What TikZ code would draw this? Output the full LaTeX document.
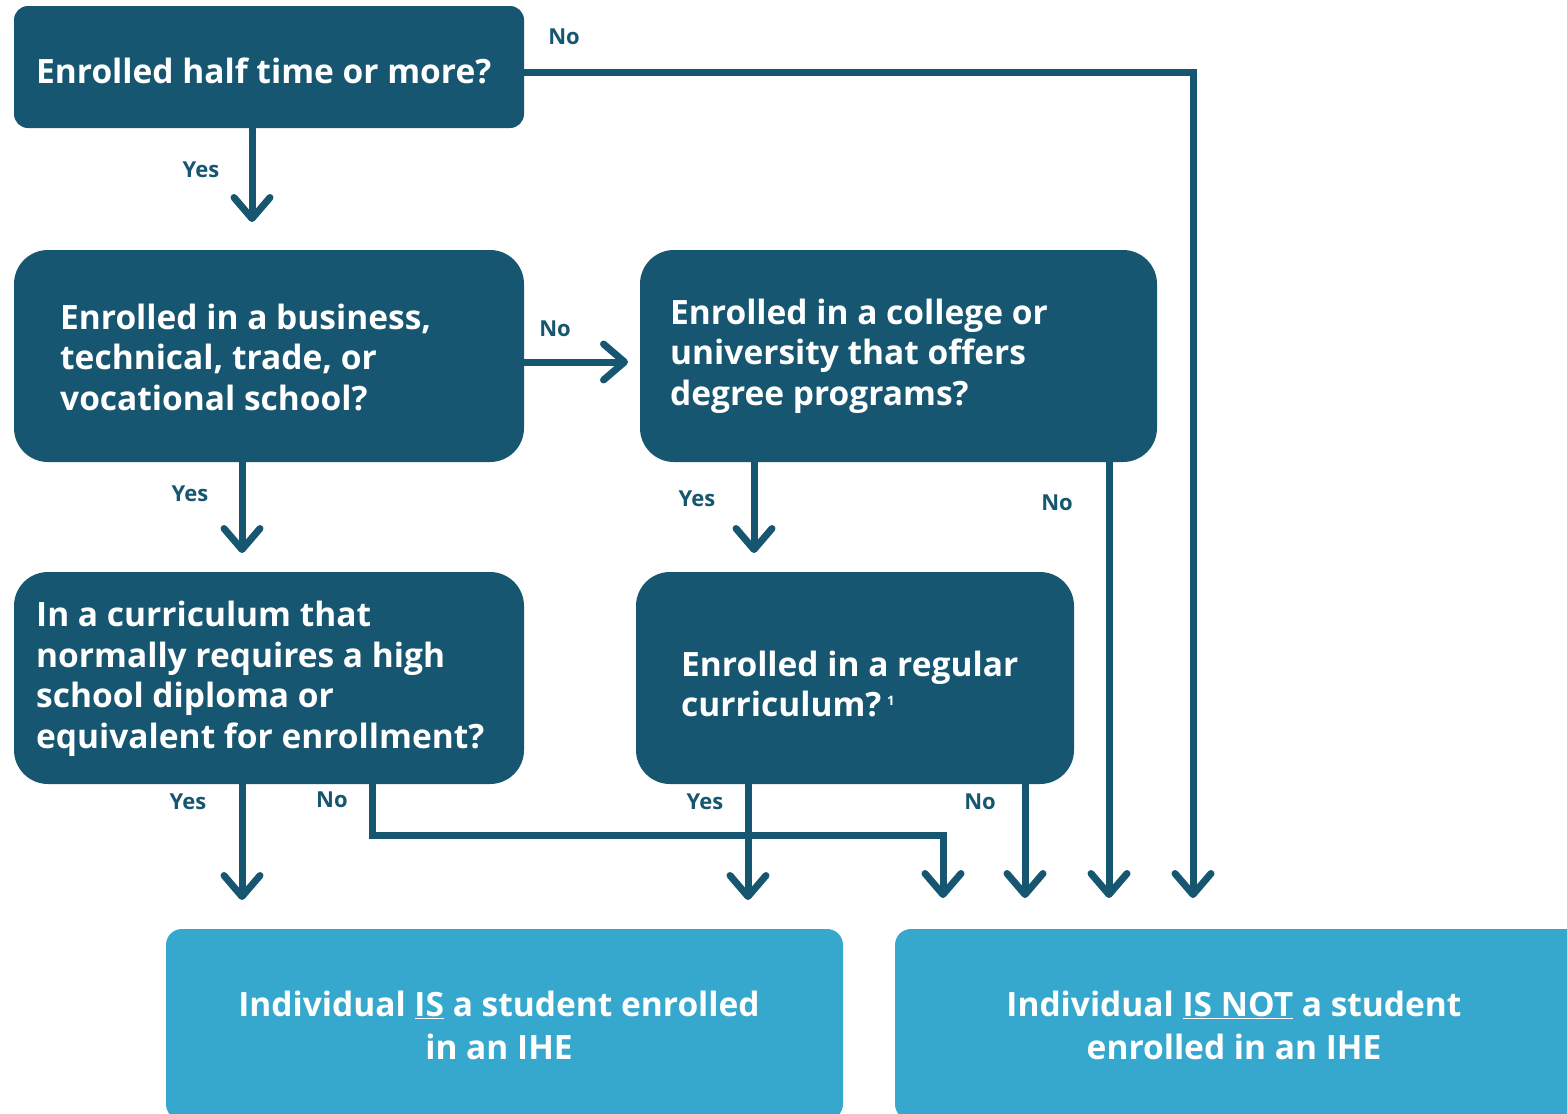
\documentclass[tikz,border=0pt]{standalone}
\usepackage{fontspec}
\setmainfont{Open Sans}
\usetikzlibrary{arrows.meta}
\definecolor{dark}{HTML}{175670}
\definecolor{light}{HTML}{37A8CD}
\begin{document}
\begin{tikzpicture}[x=1pt,y=-1pt,
  dbox/.style={fill=dark, draw=none, rounded corners=34pt, inner sep=0pt},
  lbox/.style={fill=light, draw=none, rounded corners=16pt, inner sep=0pt},
  qtext/.style={text=white, font=\bfseries\fontsize{33.5}{40.5}\selectfont, align=left, anchor=west, inner sep=0pt},
  rtext/.style={text=white, font=\bfseries\fontsize{33.5}{43}\selectfont, align=center, inner sep=0pt},
  lab/.style={text=dark, font=\bfseries\fontsize{22}{24}\selectfont, inner sep=0pt},
  arr/.style={draw=dark, line width=7pt, -{Straight Barb[length=21pt,width=36pt,round]}}
]
\useasboundingbox (0,0) rectangle (1567,1114);
\clip (0,0) rectangle (1567,1114);
\fill[white] (0,0) rectangle (1567,1114);

% boxes
\node[dbox, rounded corners=14pt, minimum width=510pt, minimum height=122pt] (A) at (269,67) {};
\node[dbox, minimum width=510pt, minimum height=212pt] (B) at (269,356) {};
\node[dbox, minimum width=517pt, minimum height=212pt] (C) at (898.5,356) {};
\node[dbox, minimum width=510pt, minimum height=212pt] (D) at (269,678) {};
\node[dbox, minimum width=438pt, minimum height=212pt] (E) at (855,678) {};
\node[lbox, minimum width=677pt, minimum height=191pt] (F) at (504.5,1024.5) {};
\node[lbox, minimum width=695pt, minimum height=191pt] (G) at (1242.5,1024.5) {};

% texts
\node[qtext] (At) at (36,71) {Enrolled half time or more?};
\node[qtext] (Bt) at (60,357) {Enrolled in a business,\\technical, trade, or\\vocational school?};
\node[qtext] (Ct) at (670,356) {Enrolled in a college or\\university that offers\\degree programs?};
\node[qtext] (Dt) at (36,679) {In a curriculum that\\normally requires a high\\school diploma or\\equivalent for enrollment?};
\node[qtext] (Et) at (681,684) {Enrolled in a regular\\curriculum?\,{\fontsize{13}{13}\selectfont\raisebox{11pt}{1}}};
\node[rtext] (Ft) at (499,1025) {Individual \underline{IS} a student enrolled\\in an IHE};
\node[rtext] (Gt) at (1234,1025) {Individual \underline{IS NOT} a student\\enrolled in an IHE};

% coordinates
\coordinate (a1) at (252,222);
\coordinate (a2) at (1193,72);
\coordinate (a2e) at (1193,898);
\coordinate (b1) at (242,553);
\coordinate (b2) at (628,362);
\coordinate (c1) at (754,553);
\coordinate (c2) at (1109,898);
\coordinate (d1) at (242,900);
\coordinate (d2a) at (372,835);
\coordinate (d2b) at (943,835);
\coordinate (d2) at (943,898);
\coordinate (e1) at (748,900);
\coordinate (e2) at (1025,898);

% connectors
\draw[arr] (A.south -| a1) -- (a1);
\draw[arr] (A.east |- a2) -- (a2) -- (a2e);
\draw[arr] (B.east |- b2) -- (b2);
\draw[arr] (B.south -| b1) -- (b1);
\draw[arr] (C.south -| c1) -- (c1);
\draw[arr] (C.south -| c2) -- (c2);
\draw[arr] (D.south -| d1) -- (d1);
\draw[arr] (D.south -| d2a) -- (d2a) -- (d2b) -- (d2);
\draw[arr] (E.south -| e1) -- (e1);
\draw[arr] (E.south -| e2) -- (e2);

% labels
\node[lab] (l1) at (201,170) {Yes};
\node[lab] (l2) at (564,37) {No};
\node[lab] (l3) at (555,329) {No};
\node[lab] (l4) at (190,494) {Yes};
\node[lab] (l5) at (697,499) {Yes};
\node[lab] (l6) at (1057,503) {No};
\node[lab] (l7) at (188,802) {Yes};
\node[lab] (l8) at (332,800) {No};
\node[lab] (l9) at (705,802) {Yes};
\node[lab] (l10) at (980,802) {No};
\end{tikzpicture}
\end{document}
